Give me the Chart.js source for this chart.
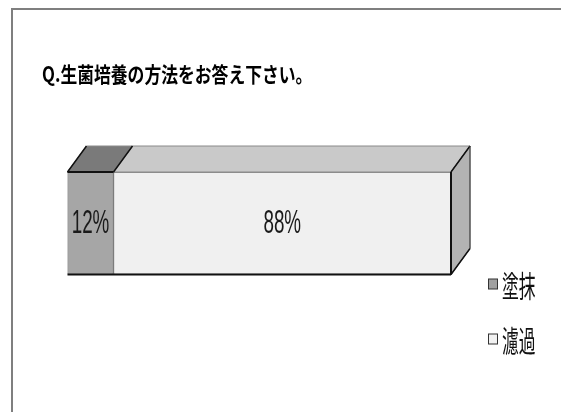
<!DOCTYPE html>
<html>
<head>
<meta charset="utf-8">
<script src="https://cdn.jsdelivr.net/npm/chart.js@4/dist/chart.umd.min.js"></script>
<style>
  html, body { margin: 0; padding: 0; background: #ffffff; }
  #wrap { width: 561px; height: 412px; position: relative; }
</style>
</head>
<body>
<div id="wrap"><canvas id="c" width="561" height="412"></canvas></div>
<script>
// Survey answer shares (percent)
const categories = ['生菌培養'];
const seriesNames = ['塗抹', '濾過'];
const shares = [12, 88];
const titleText = 'Q.生菌培養の方法をお答え下さい。';

// Face colours for the extruded bar
const frontColors = ['#a6a6a6', '#f0f0f0'];
const topColors = ['#7a7a7a', '#c9c9c9'];
const sideColor = '#b3b3b3';
const swatchColors = ['#a0a0a0', '#f2f2f2'];

// Depth of the 3D extrusion (towards upper right)
const DX = 19, DY = -26;

function squeezedText(ctx, text, x, y, font, sx, align) {
  ctx.save();
  ctx.translate(x, y);
  ctx.scale(sx, 1);
  ctx.font = font;
  ctx.textAlign = align;
  ctx.textBaseline = 'middle';
  ctx.fillText(text, 0, 0);
  ctx.restore();
}

const decorations = {
  id: 'decorations',
  beforeDraw(chart) {
    const ctx = chart.ctx;
    ctx.save();
    ctx.fillStyle = '#ffffff';
    ctx.fillRect(0, 0, chart.width, chart.height);
    // outer frame
    ctx.strokeStyle = '#7f7f7f';
    ctx.lineWidth = 2;
    ctx.beginPath();
    ctx.moveTo(12, chart.height);
    ctx.lineTo(12, 9);
    ctx.lineTo(chart.width, 9);
    ctx.stroke();
    // title
    ctx.fillStyle = '#000000';
    squeezedText(ctx, titleText, 42, 74, 'bold 21px "Noto Sans CJK JP"', 0.8, 'left');
    ctx.restore();
  },
  afterDatasetsDraw(chart) {
    const ctx = chart.ctx;
    const bars = shares.map((_, i) =>
      chart.getDatasetMeta(i).data[0].getProps(['x', 'base', 'y', 'height'], true));
    ctx.save();
    ctx.lineJoin = 'miter';

    // top faces
    bars.forEach((b, i) => {
      const x0 = Math.min(b.base, b.x), x1 = Math.max(b.base, b.x);
      const top = b.y - b.height / 2;
      ctx.beginPath();
      ctx.moveTo(x0, top);
      ctx.lineTo(x0 + DX, top + DY);
      ctx.lineTo(x1 + DX, top + DY);
      ctx.lineTo(x1, top);
      ctx.closePath();
      ctx.fillStyle = topColors[i];
      ctx.fill();
      ctx.strokeStyle = '#8a8a8a';
      ctx.lineWidth = 1;
      ctx.stroke();
    });

    const first = bars[0], last = bars[bars.length - 1];
    const left = Math.min(first.base, first.x);
    const split = Math.max(first.base, first.x);
    const right = Math.max(last.base, last.x);
    const top = last.y - last.height / 2;
    const bottom = last.y + last.height / 2;

    // right side face
    ctx.beginPath();
    ctx.moveTo(right, top);
    ctx.lineTo(right + DX, top + DY);
    ctx.lineTo(right + DX, bottom + DY);
    ctx.lineTo(right, bottom);
    ctx.closePath();
    ctx.fillStyle = sideColor;
    ctx.fill();
    ctx.strokeStyle = '#6a6a6a';
    ctx.lineWidth = 1;
    ctx.stroke();

    // dark edges
    ctx.strokeStyle = '#111111';
    ctx.lineWidth = 1.5;
    ctx.beginPath();
    ctx.moveTo(left, top); ctx.lineTo(left + DX, top + DY);
    ctx.moveTo(split, top); ctx.lineTo(split + DX, top + DY);
    ctx.moveTo(right, top); ctx.lineTo(right + DX, top + DY);
    ctx.moveTo(right + DX, bottom + DY); ctx.lineTo(right, bottom);
    ctx.stroke();

    ctx.lineWidth = 2;
    ctx.beginPath();
    ctx.moveTo(left, top); ctx.lineTo(split, top);
    ctx.moveTo(left, bottom); ctx.lineTo(right, bottom);
    ctx.moveTo(right, top); ctx.lineTo(right, bottom);
    ctx.stroke();

    ctx.strokeStyle = '#444444';
    ctx.lineWidth = 1;
    ctx.beginPath();
    ctx.moveTo(right + DX, top + DY); ctx.lineTo(right + DX, bottom + DY);
    ctx.stroke();

    // value labels
    ctx.fillStyle = '#1a1a1a';
    bars.forEach((b, i) => {
      const cx = (b.base + b.x) / 2;
      squeezedText(ctx, shares[i] + '%', cx, b.y + 1, '33px "Liberation Sans"', 0.57, 'center');
    });

    // legend
    seriesNames.forEach((name, i) => {
      const cy = 284.5 + i * 55;
      ctx.fillStyle = swatchColors[i];
      ctx.fillRect(488.5, cy - 5.5, 9, 10);
      ctx.strokeStyle = '#333333';
      ctx.lineWidth = 1;
      ctx.strokeRect(488.5, cy - 5.5, 9, 10);
      ctx.fillStyle = '#111111';
      squeezedText(ctx, name, 502, cy + 1, '30px "Noto Sans CJK JP"', 0.56, 'left');
    });
    ctx.restore();
  }
};

new Chart(document.getElementById('c'), {
  type: 'bar',
  data: {
    labels: categories,
    datasets: seriesNames.map((name, i) => ({
      label: name,
      data: [shares[i]],
      backgroundColor: frontColors[i],
      borderColor: '#6e6e6e',
      borderWidth: 1,
      borderSkipped: false,
      barPercentage: 1,
      categoryPercentage: 1
    }))
  },
  options: {
    indexAxis: 'y',
    responsive: false,
    animation: false,
    devicePixelRatio: 1,
    layout: { padding: { left: 67.5, right: 110, top: 172, bottom: 137.5 } },
    scales: {
      x: { stacked: true, min: 0, max: 100, display: false },
      y: { stacked: true, display: false }
    },
    plugins: {
      legend: { display: false },
      title: { display: false },
      tooltip: { enabled: false }
    }
  },
  plugins: [decorations]
});
</script>
</body>
</html>
